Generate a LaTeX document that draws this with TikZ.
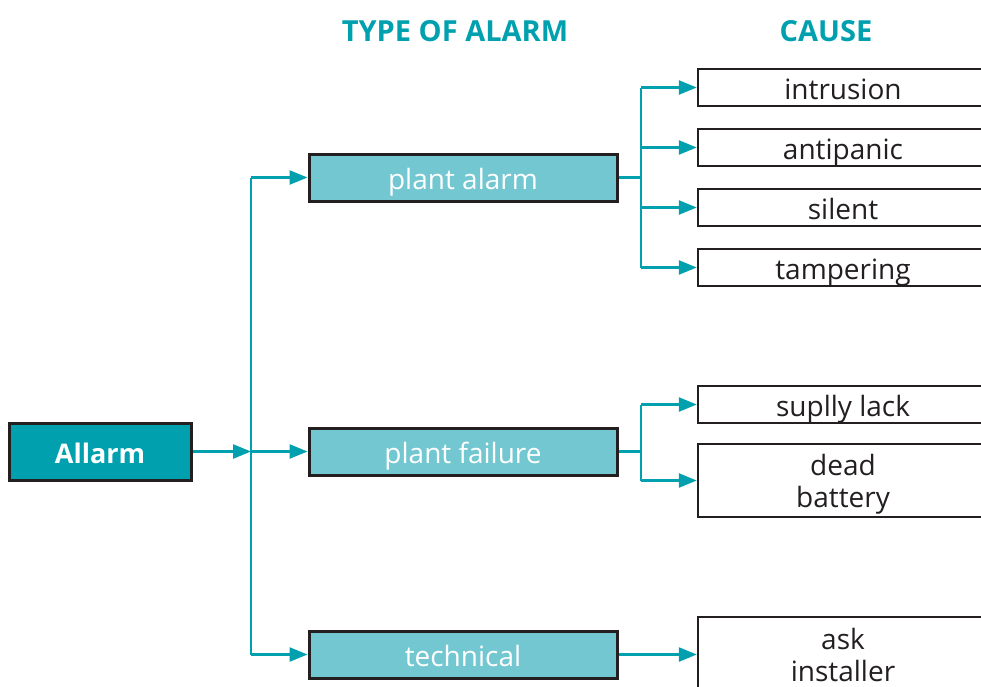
\documentclass[tikz,border=0pt]{standalone}
\usepackage{fontspec}
\setmainfont{Open Sans}
\usetikzlibrary{arrows.meta}
\definecolor{teal1}{HTML}{00A0AF}
\definecolor{teal2}{HTML}{72C7D1}
\definecolor{ink}{HTML}{231F20}
\tikzset{
  base/.style={font=\fontsize{28}{32}\selectfont, inner sep=0pt, align=center, text height=23pt, text depth=0pt},
  two/.style={text height=54pt, text depth=0pt},
  rootbox/.style={base, draw=ink, line width=3pt, fill=teal1, text=white, font=\fontsize{27}{32}\selectfont\bfseries, minimum width=182pt, minimum height=57pt},
  typebox/.style={base, draw=ink, line width=3pt, fill=teal2, text=white, minimum width=308pt, minimum height=47pt},
  causebox/.style={base, draw=ink, line width=2.5pt, fill=white, text=ink, minimum width=290pt},
  head/.style={font=\fontsize{29}{34}\selectfont\bfseries, text=teal1, inner sep=0pt},
  conn/.style={draw=teal1, line width=2.5pt},
  arr/.style={conn, -{Triangle[length=18pt,width=14pt]}},
}
\begin{document}
\begin{tikzpicture}[x=1pt,y=-1pt]
\useasboundingbox (0,0) rectangle (981,686);
\clip (0,0) rectangle (981,686);
% headings
\node[head] (h1) at (455,31) {TYPE OF ALARM};
\node[head] (h2) at (826,31) {CAUSE};
% root
\node[rootbox] (root) at (100,451.5) {Allarm};
% types
\node[typebox] (pa) at (463,177.5) {plant alarm};
\node[typebox] (pf) at (463,451.5) {plant failure};
\node[typebox] (tc) at (463,654.5) {technical};
% causes
\node[causebox, minimum height=37pt] (c1) at (843,87.5) {intrusion};
\node[causebox, minimum height=37pt] (c2) at (843,147.5) {antipanic};
\node[causebox, minimum height=37pt] (c3) at (843,207.5) {silent};
\node[causebox, minimum height=37pt] (c4) at (843,267.5) {tampering};
\node[causebox, minimum height=37pt] (c5) at (843,404.5) {suplly lack};
\node[causebox, two, minimum height=73pt] (c6) at (843,480.5) {dead\\battery};
\node[causebox, two, minimum height=75pt] (c7) at (843,654.5) {ask\\installer};
% junctions
\coordinate (j0) at (251,451.5);
\coordinate (j1) at (641,177.5);
\coordinate (j2) at (641,451.5);
% root to types
\draw[arr] (root.east) -- (j0);
\draw[conn] (j0 |- pa) -- (j0 |- tc);
\draw[arr] (j0 |- pa) -- (pa.west);
\draw[arr] (j0) -- (pf.west);
\draw[arr] (j0 |- tc) -- (tc.west);
% plant alarm
\draw[conn] (pa.east) -- (j1);
\draw[conn] (j1 |- c1) -- (j1 |- c4);
\draw[arr] (j1 |- c1) -- (c1.west);
\draw[arr] (j1 |- c2) -- (c2.west);
\draw[arr] (j1 |- c3) -- (c3.west);
\draw[arr] (j1 |- c4) -- (c4.west);
% plant failure
\draw[conn] (pf.east) -- (j2);
\draw[conn] (j2 |- c5) -- (j2 |- c6);
\draw[arr] (j2 |- c5) -- (c5.west);
\draw[arr] (j2 |- c6) -- (c6.west);
% technical
\draw[arr] (tc.east) -- (c7.west |- tc);
\end{tikzpicture}
\end{document}
